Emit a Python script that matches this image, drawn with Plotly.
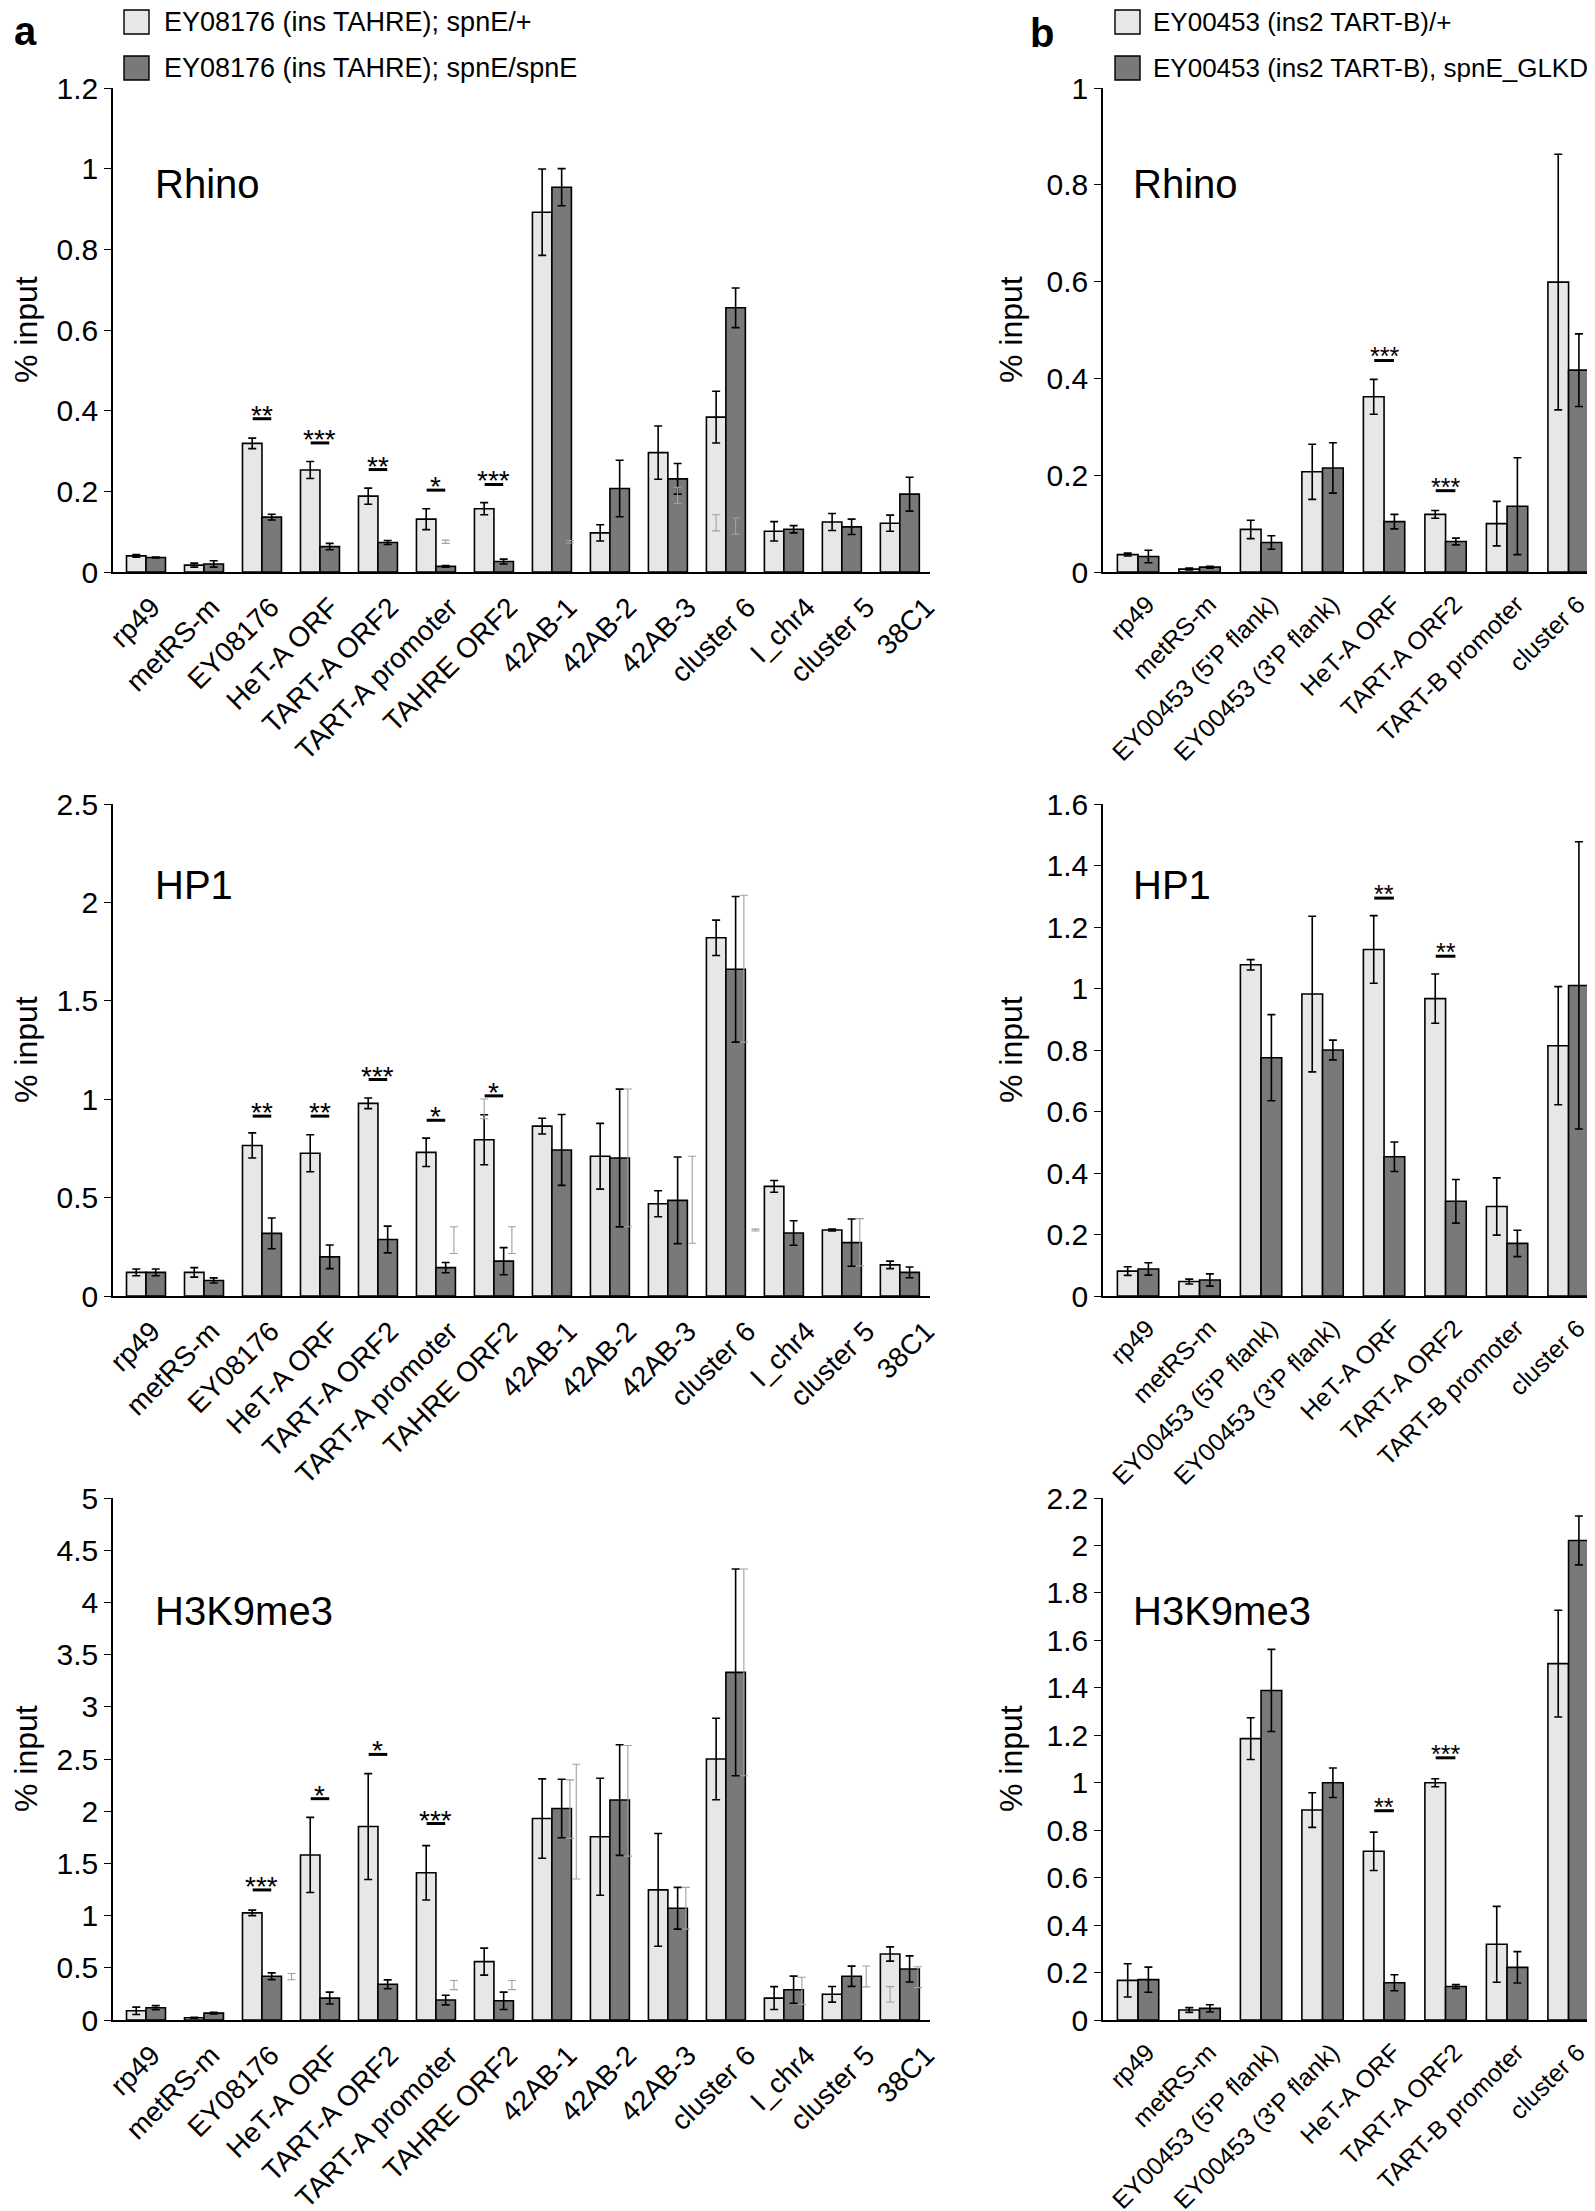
import plotly.graph_objects as go

W, H = 1595, 2211
FONT = "Liberation Sans, Arial"

# ---------------- data ----------------
cats_a = ["rp49", "metRS-m", "EY08176", "HeT-A ORF", "TART-A ORF2", "TART-A promoter",
          "TAHRE ORF2", "42AB-1", "42AB-2", "42AB-3", "cluster 6", "I_chr4", "cluster 5", "38C1"]
cats_b = ["rp49", "metRS-m", "EY00453 (5'P flank)", "EY00453 (3'P flank)", "HeT-A ORF",
          "TART-A ORF2", "TART-B promoter", "cluster 6"]

legend_a = ["EY08176 (ins TAHRE); spnE/+", "EY08176 (ins TAHRE); spnE/spnE"]
legend_b = ["EY00453 (ins2 TART-B)/+", "EY00453 (ins2 TART-B), spnE_GLKD"]

# Rhino, panel a
rhino_a_het = [0.040, 0.017, 0.319, 0.253, 0.188, 0.131, 0.157, 0.892, 0.097, 0.296, 0.384, 0.101, 0.124, 0.121]
rhino_a_het_err = [0.003, 0.005, 0.013, 0.021, 0.020, 0.026, 0.015, 0.107, 0.020, 0.066, 0.064, 0.024, 0.021, 0.020]
rhino_a_mut = [0.036, 0.020, 0.136, 0.063, 0.073, 0.014, 0.026, 0.954, 0.207, 0.231, 0.655, 0.106, 0.112, 0.193]
rhino_a_mut_err = [0.001, 0.008, 0.007, 0.008, 0.005, 0.002, 0.006, 0.046, 0.070, 0.038, 0.049, 0.009, 0.019, 0.042]
rhino_a_sig = [(2, 0.380, "**"), (3, 0.320, "***"), (4, 0.254, "**"), (5, 0.203, "*"), (6, 0.217, "***")]
rhino_a_ghost = [(5, "d", 0.075, 0.004), (7, "r", 0.075, 0.003), (9, "d", 0.190, 0.020),
                 (10, "l", 0.122, 0.020), (10, "d", 0.114, 0.020)]

# Rhino, panel b
rhino_b_het = [0.036, 0.006, 0.088, 0.207, 0.362, 0.119, 0.100, 0.599]
rhino_b_het_err = [0.003, 0.002, 0.019, 0.057, 0.036, 0.008, 0.046, 0.264]
rhino_b_mut = [0.032, 0.010, 0.061, 0.215, 0.104, 0.063, 0.136, 0.417]
rhino_b_mut_err = [0.013, 0.002, 0.014, 0.052, 0.015, 0.007, 0.100, 0.075]
rhino_b_sig = [(4, 0.437, "***"), (5, 0.168, "***")]
rhino_b_ghost = []

# HP1, panel a
hp1_a_het = [0.120, 0.120, 0.765, 0.725, 0.979, 0.730, 0.794, 0.863, 0.710, 0.469, 1.820, 0.557, 0.335, 0.158]
hp1_a_het_err = [0.017, 0.024, 0.064, 0.094, 0.027, 0.072, 0.127, 0.040, 0.167, 0.066, 0.090, 0.030, 0.005, 0.019]
hp1_a_mut = [0.120, 0.079, 0.318, 0.199, 0.287, 0.144, 0.177, 0.742, 0.701, 0.486, 1.660, 0.320, 0.271, 0.120]
hp1_a_mut_err = [0.017, 0.013, 0.078, 0.060, 0.068, 0.026, 0.069, 0.180, 0.350, 0.220, 0.370, 0.062, 0.120, 0.027]
hp1_a_sig = [(2, 0.914, "**"), (3, 0.914, "**"), (4, 1.100, "***"), (5, 0.893, "*"), (6, 1.017, "*")]
hp1_a_ghost = [(5, "r", 0.284, 0.068), (6, "l", 0.951, 0.050), (6, "r", 0.284, 0.068), (8, "r", 0.702, 0.350),
               (9, "g", 0.489, 0.221), (10, "r", 1.663, 0.373), (11, "ll", 0.335, 0.005), (12, "r", 0.273, 0.120)]

# HP1, panel b
hp1_b_het = [0.081, 0.047, 1.077, 0.982, 1.127, 0.967, 0.291, 0.814]
hp1_b_het_err = [0.014, 0.008, 0.017, 0.253, 0.110, 0.080, 0.093, 0.192]
hp1_b_mut = [0.088, 0.052, 0.775, 0.800, 0.453, 0.308, 0.171, 1.010]
hp1_b_mut_err = [0.020, 0.020, 0.140, 0.032, 0.048, 0.071, 0.043, 0.467]
hp1_b_sig = [(4, 1.294, "**"), (5, 1.105, "**")]
hp1_b_ghost = []

# H3K9me3, panel a
h3_a_het = [0.088, 0.022, 1.026, 1.581, 1.853, 1.410, 0.559, 1.930, 1.755, 1.246, 2.500, 0.210, 0.246, 0.632]
h3_a_het_err = [0.035, 0.005, 0.026, 0.360, 0.507, 0.260, 0.129, 0.380, 0.560, 0.540, 0.390, 0.110, 0.075, 0.068]
h3_a_mut = [0.118, 0.066, 0.419, 0.210, 0.342, 0.191, 0.184, 2.026, 2.107, 1.070, 3.330, 0.290, 0.419, 0.489]
h3_a_mut_err = [0.020, 0.008, 0.032, 0.057, 0.042, 0.046, 0.083, 0.280, 0.530, 0.200, 0.990, 0.130, 0.097, 0.125]
h3_a_sig = [(2, 1.246, "***"), (3, 2.120, "*"), (4, 2.544, "*"), (5, 1.882, "***")]
h3_a_ghost = [(3, "ll", 0.415, 0.030), (5, "r", 0.335, 0.044), (6, "r", 0.335, 0.044), (7, "r", 2.020, 0.280),
              (7, "g", 1.900, 0.550), (8, "r", 2.100, 0.530), (9, "r", 1.070, 0.200), (10, "r", 3.330, 0.990),
              (11, "r", 0.280, 0.130), (12, "g", 0.417, 0.100), (13, "l", 0.246, 0.074), (13, "r", 0.410, 0.100)]

# H3K9me3, panel b
h3_b_het = [0.167, 0.042, 1.186, 0.885, 0.711, 1.000, 0.319, 1.502]
h3_b_het_err = [0.070, 0.010, 0.088, 0.073, 0.081, 0.017, 0.160, 0.225]
h3_b_mut = [0.170, 0.049, 1.389, 1.000, 0.157, 0.141, 0.222, 2.021]
h3_b_mut_err = [0.053, 0.015, 0.173, 0.062, 0.034, 0.008, 0.066, 0.103]
h3_b_sig = [(4, 0.882, "**"), (5, 1.105, "***")]
h3_b_ghost = []

titles = ["Rhino", "HP1", "H3K9me3"]

# ---------------- layout helpers ----------------
def fx(px):
    return px / W

def fy(py):
    return 1 - py / H

LIGHT = "#e7e7e7"
DARK = "#797979"
BW = 0.336          # bar width in category units
side_off = {"l": -0.168, "d": 0.168, "r": 0.31, "g": 0.42, "ll": -0.49}

# vertical pixel extents (top of axis, zero line)
rows = [(80, 564), (796, 1288), (1490, 2012)]
title_top = [152, 853, 1579]
cols = {
    "a": dict(x0=105, x1=922, rng=[-0.569, 13.52], cats=cats_a, title_x=145, ytitle_x=18,
              catsize=28, starsize=28, legsize=27, sq_x=116, tx=154, lab_off=0.10, lab_slope=0.027),
    "b": dict(x0=1095, x1=1595, rng=[-0.57, 7.56], cats=cats_b, title_x=1123, ytitle_x=1003,
              catsize=25, starsize=25, legsize=26, sq_x=1107, tx=1143, lab_off=0.15, lab_slope=0.0),
}

panels = [
    ("a", 0, rhino_a_het, rhino_a_het_err, rhino_a_mut, rhino_a_mut_err, rhino_a_sig, rhino_a_ghost, 1.2, 0.2),
    ("b", 0, rhino_b_het, rhino_b_het_err, rhino_b_mut, rhino_b_mut_err, rhino_b_sig, rhino_b_ghost, 1.0, 0.2),
    ("a", 1, hp1_a_het, hp1_a_het_err, hp1_a_mut, hp1_a_mut_err, hp1_a_sig, hp1_a_ghost, 2.5, 0.5),
    ("b", 1, hp1_b_het, hp1_b_het_err, hp1_b_mut, hp1_b_mut_err, hp1_b_sig, hp1_b_ghost, 1.6, 0.2),
    ("a", 2, h3_a_het, h3_a_het_err, h3_a_mut, h3_a_mut_err, h3_a_sig, h3_a_ghost, 5.0, 0.5),
    ("b", 2, h3_b_het, h3_b_het_err, h3_b_mut, h3_b_mut_err, h3_b_sig, h3_b_ghost, 2.2, 0.2),
]

fig = go.Figure()
layout = dict(
    width=W, height=H, margin=dict(l=0, r=0, t=0, b=0),
    paper_bgcolor="white", plot_bgcolor="white", showlegend=False,
    barmode="overlay", font=dict(family=FONT, color="black"),
)
annotations = []
shapes = []

for k, (col, row, het, het_e, mut, mut_e, sig, ghost, ymax, dtick) in enumerate(panels):
    n = k + 1
    xa = "x" if n == 1 else f"x{n}"
    ya = "y" if n == 1 else f"y{n}"
    c = cols[col]
    top, zero = rows[row]
    idx = list(range(len(c["cats"])))

    for vals, errs, color in ((het, het_e, LIGHT), (mut, mut_e, DARK)):
        fig.add_trace(go.Bar(
            x=idx, y=vals, width=BW, offset=-BW if color == LIGHT else 0,
            marker=dict(color=color, line=dict(color="black", width=1.6)),
            error_y=dict(type="data", array=errs, visible=True, color="black", thickness=1.6, width=4),
            xaxis=xa, yaxis=ya, hoverinfo="skip",
        ))
    if ghost:
        fig.add_trace(go.Scatter(
            x=[g[0] + side_off[g[1]] for g in ghost], y=[g[2] for g in ghost],
            mode="markers", marker=dict(size=1, color="rgba(0,0,0,0)"),
            error_y=dict(type="data", array=[g[3] for g in ghost], visible=True,
                         color="#a0a0a0", thickness=1.1, width=4),
            xaxis=xa, yaxis=ya, hoverinfo="skip",
        ))

    # category labels sit slightly to the right of their bar pairs, as in the original
    label_pos = [i + c["lab_off"] + c["lab_slope"] * i for i in idx]
    layout["xaxis" if n == 1 else f"xaxis{n}"] = dict(
        domain=[fx(c["x0"]), fx(c["x1"])], anchor=ya, range=c["rng"],
        tickmode="array", tickvals=label_pos, ticktext=c["cats"], tickangle=-45,
        showline=True, linecolor="black", linewidth=1.6, ticks="", showgrid=False,
        zeroline=False, tickfont=dict(size=c["catsize"], family=FONT, color="black"), automargin=False,
        ticklabelstandoff=6,
    )
    layout["yaxis" if n == 1 else f"yaxis{n}"] = dict(
        domain=[fy(zero), fy(top)], anchor=xa, range=[0, ymax], dtick=dtick, tick0=0,
        showline=True, linecolor="black", linewidth=1.6, ticks="outside", ticklen=7,
        tickwidth=1.4, tickcolor="black", showgrid=False, zeroline=False,
        tickfont=dict(size=30, family=FONT, color="black"), automargin=False,
    )

    # significance marks
    for (ci, yv, s) in sig:
        shapes.append(dict(type="line", xref=xa, yref=ya, x0=ci - 0.16, x1=ci + 0.16, y0=yv, y1=yv,
                           line=dict(color="black", width=3)))
        annotations.append(dict(xref=xa, yref=ya, x=ci, y=yv, text=s, showarrow=False,
                                yanchor="bottom", yshift=-int(c["starsize"] * 0.5),
                                font=dict(size=c["starsize"], family=FONT, color="black")))

    # panel title
    annotations.append(dict(xref="paper", yref="paper", x=fx(c["title_x"]), y=fy(title_top[row]),
                            xanchor="left", yanchor="top", text=titles[row], showarrow=False,
                            font=dict(size=40, family=FONT, color="black")))
    # y-axis title
    annotations.append(dict(xref="paper", yref="paper", x=fx(c["ytitle_x"]), y=fy((top + zero) / 2),
                            xanchor="center", yanchor="middle", text="% input", textangle=-90,
                            showarrow=False, font=dict(size=32, family=FONT, color="black")))

# panel letters
annotations.append(dict(xref="paper", yref="paper", x=fx(4), y=fy(47), xanchor="left", yanchor="bottom",
                        text="<b>a</b>", showarrow=False, font=dict(size=40, family=FONT)))
annotations.append(dict(xref="paper", yref="paper", x=fx(1020), y=fy(49), xanchor="left", yanchor="bottom",
                        text="<b>b</b>", showarrow=False, font=dict(size=40, family=FONT)))

# legends
for names, c in ((legend_a, cols["a"]), (legend_b, cols["b"])):
    for j, (name, color) in enumerate(zip(names, (LIGHT, DARK))):
        cy = 14 + j * 46
        shapes.append(dict(type="rect", xref="paper", yref="paper", x0=fx(c["sq_x"]), x1=fx(c["sq_x"] + 25),
                           y0=fy(cy + 12), y1=fy(cy - 12), fillcolor=color,
                           line=dict(color="black", width=1.4)))
        annotations.append(dict(xref="paper", yref="paper", x=fx(c["tx"]), y=fy(cy), xanchor="left",
                                yanchor="middle", text=name, showarrow=False,
                                font=dict(size=c["legsize"], family=FONT, color="black")))

layout["annotations"] = annotations
layout["shapes"] = shapes
fig.update_layout(**layout)
fig.write_html("out.html")
